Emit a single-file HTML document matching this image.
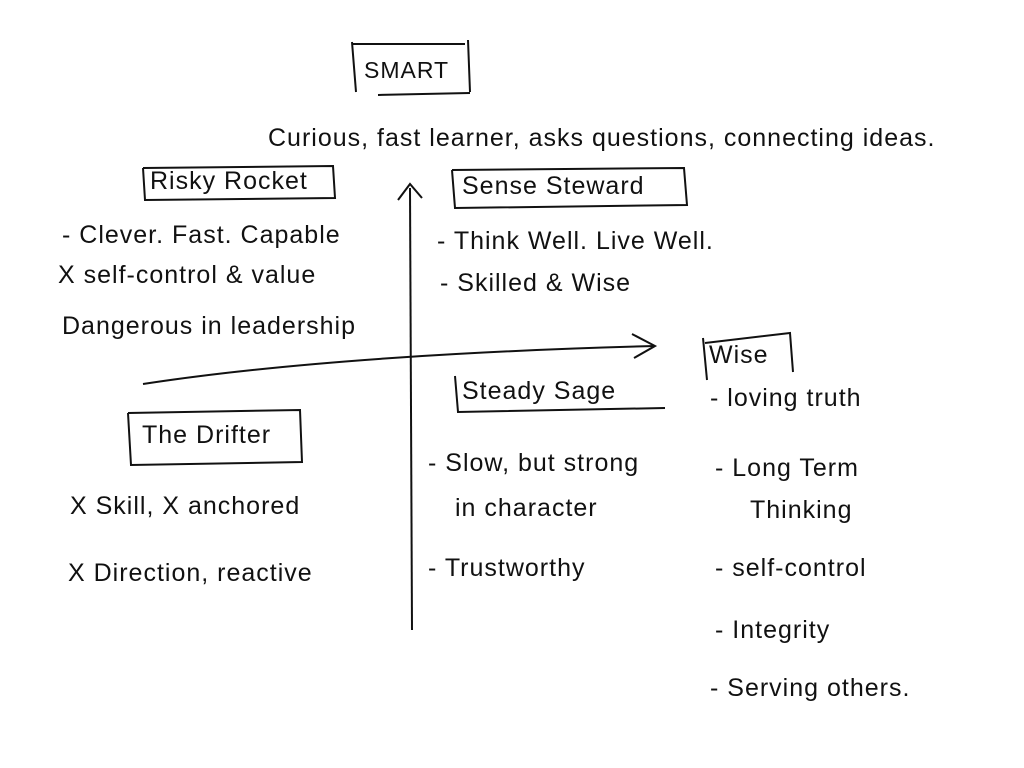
<!DOCTYPE html>
<html><head><meta charset="utf-8"><style>
html,body{margin:0;padding:0;background:#fff;}
#c{position:relative;width:1024px;height:768px;overflow:hidden;font-family:"Liberation Sans",sans-serif;color:#111;}
.t{position:absolute;font-size:25px;white-space:nowrap;letter-spacing:1px;}
svg{position:absolute;left:0;top:0;}
</style></head><body><div id="c">
<svg width="1024" height="768" fill="none" stroke="#111" stroke-width="2">
<path d="M352 42 L356 92 M352 44 L465 44 M468 40 L470 92 M378 95 L470 93"/>
<path d="M143 168 L145 200 L335 198 L333 166 L143 168"/>
<path d="M452 170 L455 208 L687 205 L684 168 L452 170"/>
<path d="M703 338 L707 380 M705 343 L790 333 L793 372"/>
<path d="M455 376 L458 412 L665 408"/>
<path d="M128 413 L131 465 L302 462 L300 410 L128 413"/>
<path d="M410 188 L412 630"/>
<path d="M398 200 L410 184 L422 198"/>
<path d="M143 384 C300 360 500 350 655 346"/>
<path d="M632 334 L655 346 L634 358"/>
</svg>
<div class="t" style="left:364px;top:57px;font-size:23px">SMART</div>
<div class="t" style="left:268px;top:124px">Curious, fast learner, asks questions, connecting ideas.</div>
<div class="t" style="left:150px;top:167px">Risky Rocket</div>
<div class="t" style="left:462px;top:172px">Sense Steward</div>
<div class="t" style="left:62px;top:221px">- Clever. Fast. Capable</div>
<div class="t" style="left:58px;top:261px">X self-control &amp; value</div>
<div class="t" style="left:62px;top:312px">Dangerous in leadership</div>
<div class="t" style="left:437px;top:227px">- Think Well. Live Well.</div>
<div class="t" style="left:440px;top:269px">- Skilled &amp; Wise</div>
<div class="t" style="left:709px;top:341px">Wise</div>
<div class="t" style="left:462px;top:377px">Steady Sage</div>
<div class="t" style="left:142px;top:421px">The Drifter</div>
<div class="t" style="left:70px;top:492px">X Skill, X anchored</div>
<div class="t" style="left:68px;top:559px">X Direction, reactive</div>
<div class="t" style="left:428px;top:449px">- Slow, but strong</div>
<div class="t" style="left:455px;top:494px">in character</div>
<div class="t" style="left:428px;top:554px">- Trustworthy</div>
<div class="t" style="left:710px;top:384px">- loving truth</div>
<div class="t" style="left:715px;top:454px">- Long Term</div>
<div class="t" style="left:750px;top:496px">Thinking</div>
<div class="t" style="left:715px;top:554px">- self-control</div>
<div class="t" style="left:715px;top:616px">- Integrity</div>
<div class="t" style="left:710px;top:674px">- Serving others.</div>
</div></body></html>
